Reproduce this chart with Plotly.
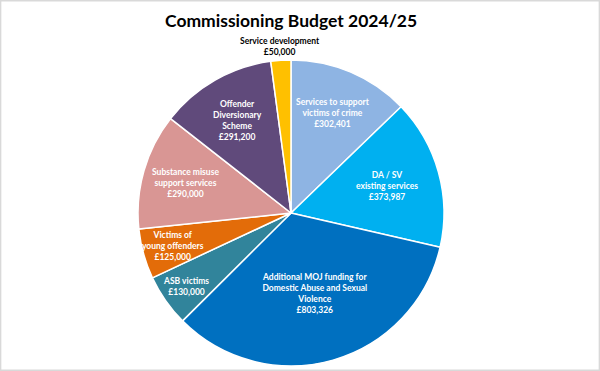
import math
import plotly.graph_objects as go

categories = [
    "Services to support<br>victims of crime",
    "DA / SV<br>existing services",
    "Additional MOJ funding for<br>Domestic Abuse and Sexual<br>Violence",
    "ASB victims",
    "Victims of<br>young offenders",
    "Substance misuse<br>support services",
    "Offender<br>Diversionary<br>Scheme",
    "Service development",
]
values = [302401, 373987, 803326, 130000, 125000, 290000, 291200, 50000]
colors = ["#8EB4E3", "#00B0F0", "#0070C0", "#31849B", "#E36C09", "#D99694", "#604A7B", "#FFC000"]
label_colors = ["white"] * 7 + ["black"]
label_radius = [0.71, 0.65, 0.55, 0.84, 0.80, 0.72, 0.70, 1.09]

W, H = 600, 371
cx, cy, R = 291, 213, 153  # pie centre / radius in pixels

fig = go.Figure(go.Pie(
    labels=[c.replace("<br>", " ") for c in categories],
    values=values,
    sort=False,
    direction="clockwise",
    rotation=0,
    marker=dict(colors=colors, line=dict(color="white", width=1.5)),
    textinfo="none",
    hoverinfo="label+value",
    domain=dict(x=[(cx - R) / W, (cx + R) / W], y=[(H - cy - R) / H, (H - cy + R) / H]),
    showlegend=False,
))

total = sum(values)
cum = 0
annotations = []
for cat, v, col, rf in zip(categories, values, label_colors, label_radius):
    mid = (cum + v / 2) / total * 2 * math.pi
    cum += v
    px = cx + rf * R * math.sin(mid)
    py = cy - rf * R * math.cos(mid)
    annotations.append(dict(
        x=px / W, y=(H - py) / H, xref="paper", yref="paper",
        text=f"{cat}<br>£{v:,}", showarrow=False,
        xanchor="center", yanchor="middle", align="center",
        font=dict(family="Lato", size=8.5, color=col, weight="bold"),
    ))

annotations.append(dict(
    x=cx / W, y=(H - 21) / H, xref="paper", yref="paper",
    text="Commissioning Budget 2024/25", showarrow=False,
    xanchor="center", yanchor="middle",
    font=dict(family="Lato", size=17.5, color="black", weight="bold"),
))

fig.update_layout(
    width=W, height=H,
    margin=dict(l=0, r=0, t=0, b=0),
    paper_bgcolor="white",
    annotations=annotations,
    shapes=[dict(type="rect", xref="paper", yref="paper", x0=0.001, x1=0.999, y0=0.002, y1=0.998,
                 line=dict(color="#D9D9D9", width=1.5))],
)

fig.write_html("out.html", config={"displayModeBar": False},
               post_script="document.body.style.margin='0';document.body.style.overflow='hidden';")
